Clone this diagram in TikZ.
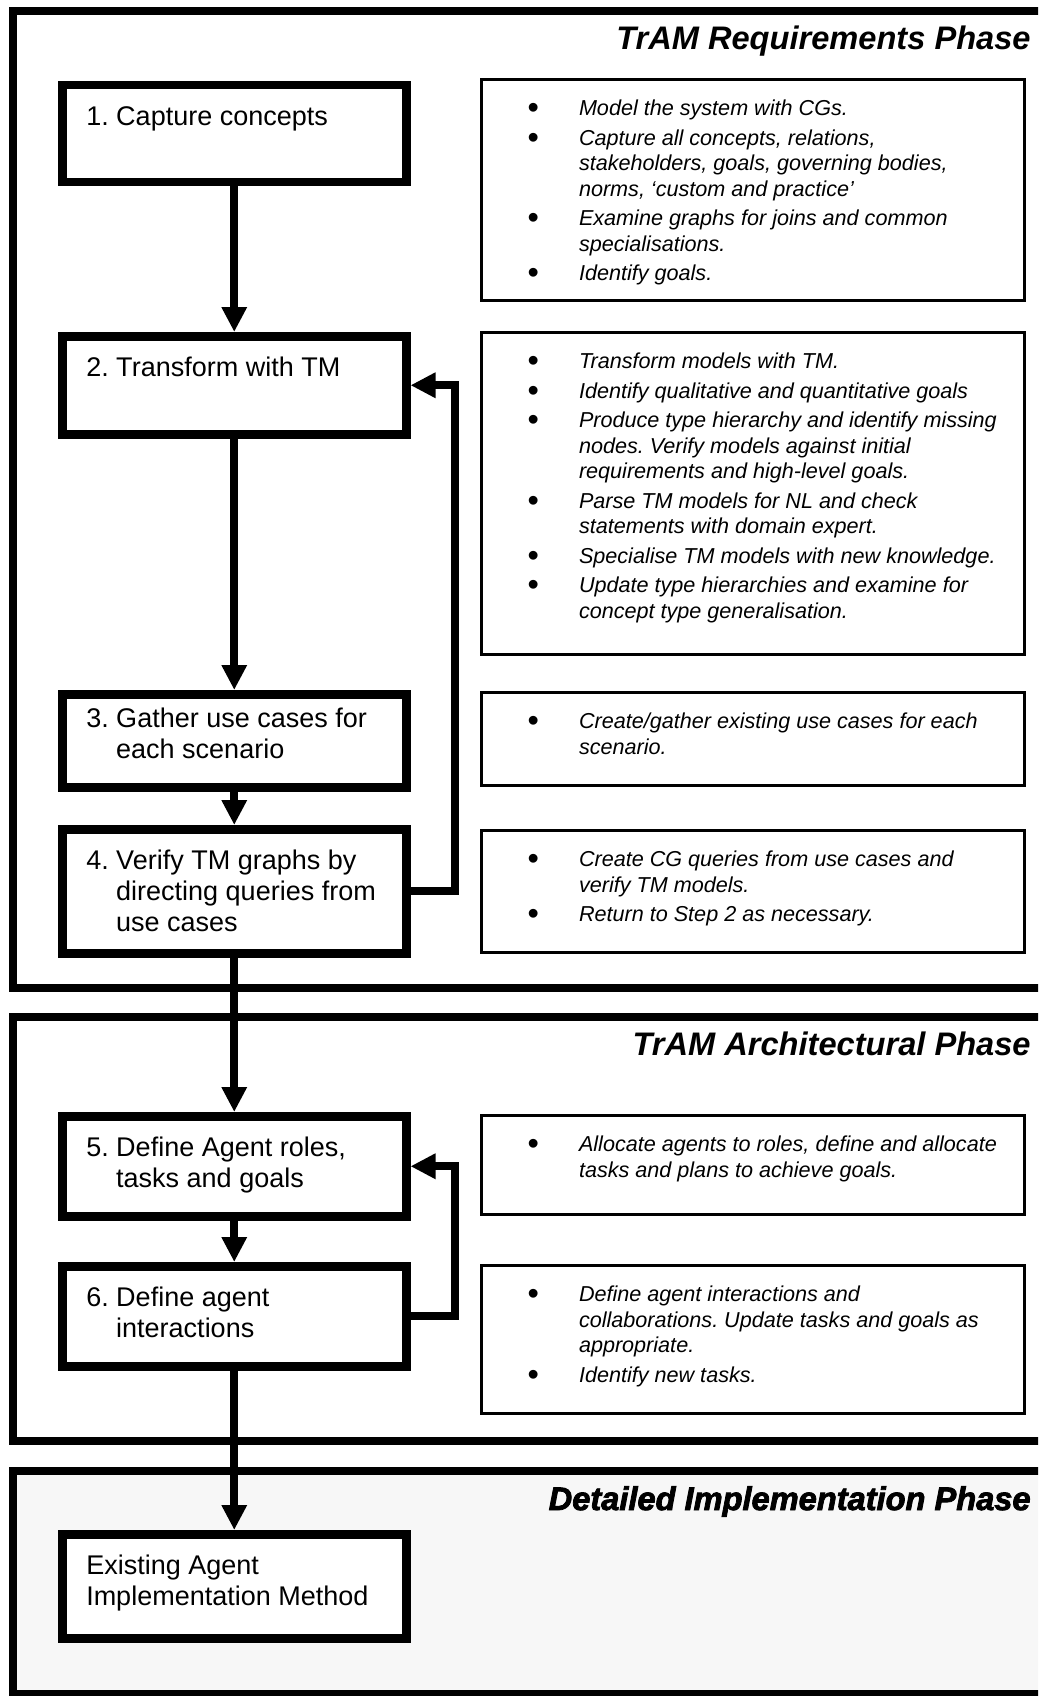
\documentclass[tikz,border=0pt]{standalone}
\usepackage{fontspec}
\setmainfont{Liberation Sans}
\newfontfamily\heavyfont[FakeBold=2.5]{Liberation Sans}
\usepackage{graphicx}
\usepackage{xcolor}
\usepackage{tikz}
\usetikzlibrary{arrows.meta,positioning}
\definecolor{speckle}{HTML}{F7F7F7}
\frenchspacing

\newcommand{\stepfont}{\fontsize{13.5pt}{15.5pt}\selectfont}
\newcommand{\notefont}{\fontsize{10.8pt}{12.75pt}\selectfont\itshape}
\newcommand{\phasefont}{\fontsize{16.3pt}{19pt}\selectfont\bfseries\itshape}
\newcommand{\notebullet}{\raisebox{-1.4pt}{\scalebox{1.5}{\upshape\textbullet}}}
% text sits at the top of a box of fixed height
\newcommand{\steptext}[3][9.15pt]{\parbox[t][#2][t]{148pt}{\vspace*{#1}\raggedright\let\\\newline\hangindent=1.11em\hangafter=1\strut #3}}
\newcommand{\notetext}[2]{\parbox[t][#1][t]{266pt}{\vspace*{9.2pt}\raggedright
  \begin{list}{\notebullet}{\setlength{\leftmargin}{46.25pt}\setlength{\labelsep}{20pt}\setlength{\labelwidth}{20pt}%
    \setlength{\itemsep}{2pt}\setlength{\parsep}{0pt}\setlength{\topsep}{0pt}\setlength{\partopsep}{0pt}}#2\end{list}}}

\begin{document}
\begin{tikzpicture}[x=0.5pt,y=-0.5pt,
  stepbox/.style={draw,line width=4.25pt,fill=white,inner xsep=12pt,inner ysep=0pt,font=\stepfont},
  notebox/.style={draw,line width=1.5pt,fill=white,inner xsep=2.75pt,inner ysep=0pt,font=\notefont},
  phase/.style={draw,line width=4pt},
  phasetitle/.style={anchor=base east,inner sep=0pt,font=\phasefont},
  arr/.style={-{Triangle[length=12.5pt,width=12pt]},line width=4pt}
]
\useasboundingbox (0,0) rectangle (1038,1696);
\clip (0,0) rectangle (1038,1696);
% phase frames
\draw[phase] (12.5,11) rectangle (1060,987.5);
\draw[phase] (12.5,1016.5) rectangle (1060,1441);
\draw[phase,fill=speckle] (12.5,1471) rectangle (1060,1694);
\node[phasetitle] (req) at (1031,50) {TrAM Requirements Phase};
\node[phasetitle] (arch) at (1031,1055) {TrAM Architectural Phase};
\node[phasetitle,font=\fontsize{16.3pt}{19pt}\selectfont\heavyfont\bfseries\itshape] (impl) at (1031,1510) {Detailed Implementation Phase};

% steps
\node[stepbox,anchor=north west] (s1) at (58,81) {\steptext{48.5pt}{1. Capture concepts}};
\node[stepbox,below=72.75pt of s1] (s2) {\steptext{49pt}{2. Transform with TM}};
\node[stepbox,below=125.75pt of s2] (s3) {\steptext[5.65pt]{46.5pt}{3. Gather use cases for\\each scenario}};
\node[stepbox,below=16.75pt of s3] (s4) {\steptext{62pt}{4. Verify TM graphs by\\directing queries from\\use cases}};
\node[stepbox,below=77.25pt of s4] (s5) {\steptext{50pt}{5. Define Agent roles,\\tasks and goals}};
\node[stepbox,below=20.75pt of s5] (s6) {\steptext{50pt}{6. Define agent\\interactions}};
\node[stepbox,below=79.75pt of s6] (s7) {\steptext{52pt}{\hangindent=0pt Existing Agent\\Implementation Method}};

% notes
\node[notebox,anchor=north west] (n1) at ([xshift=34.5pt,yshift=1.5pt]s1.north east) {\notetext{110.5pt}{%
  \item\strut Model the system with CGs.
  \item\strut Capture all concepts, relations,\\stakeholders, goals, governing bodies,\\norms, `custom and practice'
  \item\strut Examine graphs for joins and common\\specialisations.
  \item\strut Identify goals.}};
\node[notebox,below=14.5pt of n1] (n2) {\notetext{161pt}{%
  \item\strut Transform models with TM.
  \item\strut Identify qualitative and quantitative goals
  \item\strut Produce type hierarchy and identify missing\\nodes. Verify models against initial\\requirements and high-level goals.
  \item\strut Parse TM models for NL and check\\statements with domain expert.
  \item\strut Specialise TM models with new knowledge.
  \item\strut Update type hierarchies and examine for\\concept type generalisation.}};
\node[notebox,below=17.5pt of n2] (n3) {\notetext{46.5pt}{%
  \item\strut Create/gather existing use cases for each\\scenario.}};
\node[notebox,below=21pt of n3] (n4) {\notetext{61pt}{%
  \item\strut Create CG queries from use cases and\\verify TM models.
  \item\strut Return to Step 2 as necessary.}};
\node[notebox,below=80pt of n4] (n5) {\notetext{49.5pt}{%
  \item\strut Allocate agents to roles, define and allocate\\tasks and plans to achieve goals.}};
\node[notebox,below=24pt of n5] (n6) {\notetext{74pt}{%
  \item\strut Define agent interactions and\\collaborations. Update tasks and goals as\\appropriate.
  \item\strut Identify new tasks.}};

% flow
\draw[arr] (s1) -- (s2);
\draw[arr] (s2) -- (s3);
\draw[arr] (s3) -- (s4);
\draw[arr] (s4) -- (s5);
\draw[arr] (s5) -- (s6);
\draw[arr] (s6) -- (s7);
\draw[arr] (s4.east) -- ++(22.4pt,0) |- (s2.east);
\draw[arr] (s6.east) -- ++(22.4pt,0) |- (s5.east);
\end{tikzpicture}
\end{document}
